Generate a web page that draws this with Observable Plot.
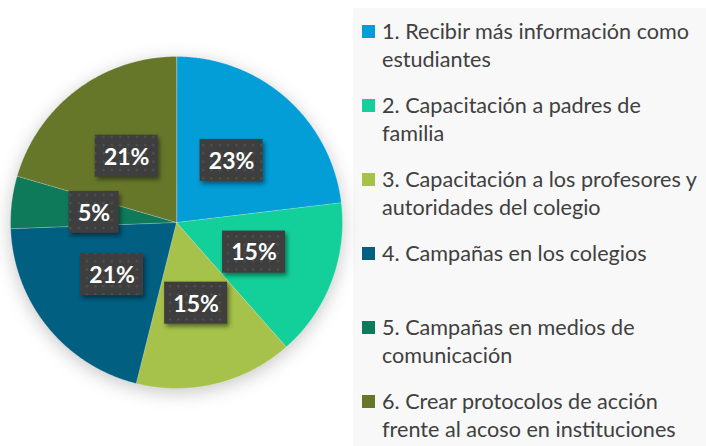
<!DOCTYPE html>
<html>
<head>
<meta charset="utf-8">
<script src="https://cdn.jsdelivr.net/npm/d3@7"></script>
<script src="https://cdn.jsdelivr.net/npm/@observablehq/plot@0.6"></script>
<style>
  html, body { margin: 0; padding: 0; background: #ffffff; }
  #wrap { position: relative; width: 706px; height: 446px; overflow: hidden; font-family: Lato, "Open Sans", sans-serif; }
  #panel { position: absolute; left: 353px; top: 8px; width: 400px; height: 450px; background: #f8f8f8; }
  #chart { position: absolute; left: 0; top: 0; }
  .item { position: absolute; left: 362px; white-space: nowrap; font-size: 21.6px; line-height: 28px; color: #404040; }
  .sw { position: absolute; left: 0; top: 8px; width: 13px; height: 13px; }
  .txt { margin-left: 20px; }
</style>
</head>
<body>
<div id="wrap">
  <div id="panel"></div>
  <div id="chart"></div>
</div>
<script>
// ---- data ----
const categories = [
  "1. Recibir más información como estudiantes",
  "2. Capacitación a padres de familia",
  "3. Capacitación a los profesores y autoridades del colegio",
  "4. Campañas en los colegios",
  "5. Campañas en medios de comunicación",
  "6. Crear protocolos de acción frente al acoso en instituciones"
];
const legendLines = [
  ["1. Recibir más información como", "estudiantes"],
  ["2. Capacitación a padres de", "familia"],
  ["3. Capacitación a los profesores y", "autoridades del colegio"],
  ["4. Campañas en los colegios"],
  ["5. Campañas en medios de", "comunicación"],
  ["6. Crear protocolos de acción", "frente al acoso en instituciones"]
];
const values = [23.1, 15.4, 15.4, 20.5, 5.1, 20.5];
const colors = ["#039DD7", "#13CF99", "#A6C24A", "#015F82", "#0F7A5A", "#67772A"];

// ---- derived geometry (from values) ----
const total = d3.sum(values);
const slices = [];
let cum = 0;
values.forEach((v, i) => {
  const a0 = cum / total * 2 * Math.PI;
  cum += v;
  const a1 = cum / total * 2 * Math.PI;
  slices.push({key: categories[i], value: v, a0, a1, label: Math.round(v) + "%"});
});
const pts = [];
for (const s of slices) {
  pts.push({key: s.key, x: 0, y: 0});
  const n = Math.max(2, Math.ceil((s.a1 - s.a0) / (Math.PI / 360)));
  for (let k = 0; k <= n; k++) {
    const a = s.a0 + (s.a1 - s.a0) * k / n;
    pts.push({key: s.key, x: Math.sin(a), y: Math.cos(a)});
  }
}
const R = 166; // px per unit
const labels = slices.map(s => {
  const m = (s.a0 + s.a1) / 2;
  const cx = 0.5 * Math.sin(m), cy = 0.5 * Math.cos(m);
  const hw = (s.label.length >= 3 ? 31.5 : 25) / R, hh = 21 / R;
  return {key: s.key, label: s.label, x: cx, y: cy, x1: cx - hw, x2: cx + hw, y1: cy - hh, y2: cy + hh};
});

const plot = Plot.plot({
  width: 706,
  height: 446,
  margin: 0,
  style: {background: "transparent"},
  x: {domain: [-1, 1], range: [10, 342], axis: null},
  y: {domain: [-1, 1], range: [388, 56], axis: null},
  color: {domain: categories, range: colors},
  marks: [
    Plot.line(pts, {x: "x", y: "y", z: "key", fill: "key", stroke: "#ffffff", strokeOpacity: 0.35, strokeWidth: 0.7, curve: "linear-closed"}),
    Plot.rect(labels, {x1: "x1", x2: "x2", y1: "y1", y2: "y2", fill: "url(#dotpat)"}),
    Plot.text(labels, {x: "x", y: "y", text: "label", fill: "white", fontSize: 23, fontWeight: "bold", fontFamily: "Lato, 'Open Sans', sans-serif", dy: 1})
  ]
});

// pattern + shadows
const svg = d3.select(plot);
const defs = svg.insert("defs", ":first-child");
const pat = defs.append("pattern").attr("id", "dotpat").attr("patternUnits", "userSpaceOnUse")
  .attr("width", 8.3).attr("height", 8.3);
pat.append("rect").attr("width", 8.3).attr("height", 8.3).attr("fill", "#3e3e3e");
pat.append("rect").attr("x", 3).attr("y", 3).attr("width", 2).attr("height", 2).attr("fill", "#555555");
svg.select('g[aria-label="line"]').style("filter", "drop-shadow(0px 4px 9px rgba(0,0,0,0.22))");
svg.select('g[aria-label="rect"]').style("filter", "drop-shadow(2px 3px 2px rgba(0,0,0,0.45))");
document.getElementById("chart").appendChild(plot);

// legend
const wrap = document.getElementById("wrap");
const col = plot.scale("color");
legendLines.forEach((lines, i) => {
  const baseline = 39 + 74 * i;
  const div = document.createElement("div");
  div.className = "item";
  div.style.top = (baseline - 22.3) + "px";
  const sw = document.createElement("div");
  sw.className = "sw";
  sw.style.background = col.apply(categories[i]);
  div.appendChild(sw);
  const t = document.createElement("div");
  t.className = "txt";
  t.innerHTML = lines.join("<br>");
  div.appendChild(t);
  wrap.appendChild(div);
});
</script>
</body>
</html>
